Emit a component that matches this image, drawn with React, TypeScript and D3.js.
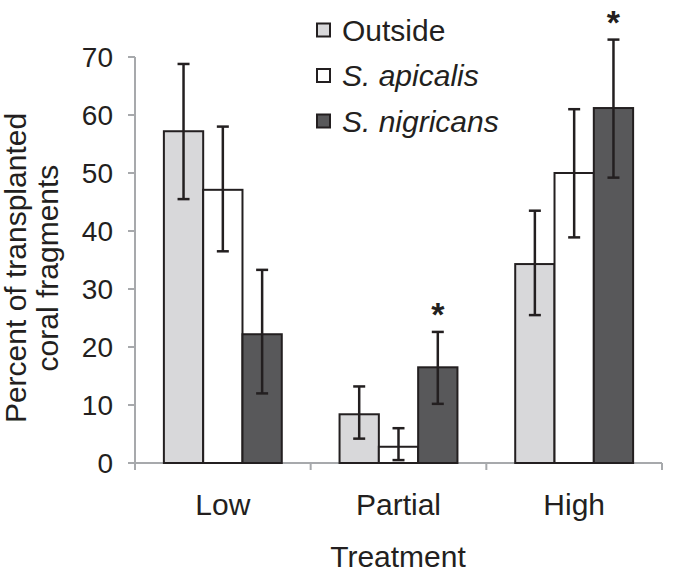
import React from "react";
import * as d3 from "d3";

const categories = ["Low", "Partial", "High"];
const series = ["Outside", "S. apicalis", "S. nigricans"];
const italicSeries = [false, true, true];
const colors = ["#d8d8da", "#ffffff", "#58585a"];
const values = [
  [57.2, 47.1, 22.2],
  [8.4, 2.8, 16.5],
  [34.3, 50.0, 61.2],
];
const errLow = [
  [45.5, 36.5, 12.0],
  [4.2, 0.5, 10.2],
  [25.5, 38.9, 49.2],
];
const errHigh = [
  [68.8, 58.0, 33.3],
  [13.2, 6.0, 22.6],
  [43.5, 61.0, 73.0],
];
const significant = [
  [false, false, false],
  [false, false, true],
  [false, false, true],
];
const yTicks = [0, 10, 20, 30, 40, 50, 60, 70];

export default function App() {
  const W = 700, H = 577;
  const x0 = 135, x1 = 662, yBase = 463, yTop = 57;
  const y = d3.scaleLinear().domain([0, 70]).range([yBase, yTop]);
  const xg = d3.scaleBand().domain(categories).range([x0, x1]).paddingInner(0).paddingOuter(0);
  const inner = d3.scaleBand().domain(series).range([0, xg.bandwidth()]).paddingInner(0).paddingOuter(0.735);
  const font = "'Liberation Sans', Arial, sans-serif";
  const ink = "#231f20";
  const axisCol = "#a7a9ac";
  const boundaries = [x0, ...categories.map((c) => (xg(c) as number) + xg.bandwidth())];

  return (
    <svg width={W} height={H} style={{ position: "absolute", left: 0, top: 0 }} fontFamily={font}>
      <rect width={W} height={H} fill="#fff" />
      {/* y axis */}
      <line x1={x0} x2={x0} y1={yTop} y2={yBase} stroke={axisCol} strokeWidth={2} />
      {yTicks.map((t) => (
        <g key={t}>
          <line x1={x0 - 7} x2={x0} y1={y(t)} y2={y(t)} stroke={axisCol} strokeWidth={2} />
          <text x={x0 - 22} y={y(t)} dy="0.36em" textAnchor="end" fontSize={28} fill={ink}>{t}</text>
        </g>
      ))}
      {/* x axis */}
      <line x1={x0} x2={x1} y1={yBase} y2={yBase} stroke={axisCol} strokeWidth={2} />
      {boundaries.map((b, i) => (
        <line key={i} x1={b} x2={b} y1={yBase} y2={yBase + 7} stroke={axisCol} strokeWidth={2} />
      ))}
      {/* bars */}
      {categories.map((c, ci) =>
        series.map((s, si) => {
          const bx = (xg(c) as number) + (inner(s) as number);
          const bw = inner.bandwidth();
          const cx = bx + bw / 2;
          const v = values[ci][si];
          return (
            <g key={c + s}>
              <rect x={bx} y={y(v)} width={bw} height={yBase - y(v)} fill={colors[si]} stroke={ink} strokeWidth={2} />
              <line x1={cx} x2={cx} y1={y(errLow[ci][si])} y2={y(errHigh[ci][si])} stroke={ink} strokeWidth={2.5} />
              <line x1={cx - 6} x2={cx + 6} y1={y(errLow[ci][si])} y2={y(errLow[ci][si])} stroke={ink} strokeWidth={2.5} />
              <line x1={cx - 6} x2={cx + 6} y1={y(errHigh[ci][si])} y2={y(errHigh[ci][si])} stroke={ink} strokeWidth={2.5} />
              {significant[ci][si] && (
                <text x={cx} y={y(errHigh[ci][si]) - 6} textAnchor="middle" fontSize={34} fontWeight="bold" fill={ink}>*</text>
              )}
            </g>
          );
        })
      )}
      {/* category labels */}
      {categories.map((c) => (
        <text key={c} x={(xg(c) as number) + xg.bandwidth() / 2} y={515} textAnchor="middle" fontSize={30} fill={ink}>{c}</text>
      ))}
      <text x={398} y={567} textAnchor="middle" fontSize={30} fill={ink}>Treatment</text>
      <text transform="translate(26,268) rotate(-90)" textAnchor="middle" fontSize={30} fill={ink}>
        <tspan x={0} dy={0}>Percent of transplanted</tspan>
        <tspan x={0} dy={32}>coral fragments</tspan>
      </text>
      {/* legend */}
      {series.map((s, si) => (
        <g key={s} transform={`translate(317,${30 + si * 45.5})`}>
          <rect x={0} y={-6.5} width={13} height={13} fill={colors[si]} stroke={ink} strokeWidth={2} />
          <text x={25} y={0} dy="0.36em" fontSize={30} fontStyle={italicSeries[si] ? "italic" : "normal"} fill={ink}>{s}</text>
        </g>
      ))}
    </svg>
  );
}
